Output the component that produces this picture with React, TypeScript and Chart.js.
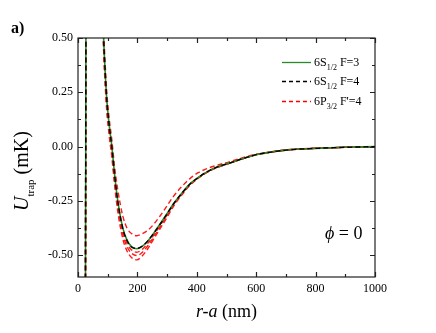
import React, { useEffect, useRef } from "react";
import { Chart, registerables } from "chart.js";

Chart.register(...registerables);

const xs = [22, 26, 30, 50, 70, 80, 86, 92, 97, 105, 114, 123, 134, 151, 165, 180, 198, 215, 235, 255, 277, 300, 322, 350, 378, 405, 434, 470, 507, 550, 600, 650, 700, 750, 800, 900, 1000];

const s12F3 = [-3, 0, 3, 3, 1.5, 0.8, 0.51, 0.33, 0.216, 0.1, 0, -0.125, -0.25, -0.375, -0.43, -0.46, -0.47, -0.46, -0.434, -0.398, -0.355, -0.308, -0.262, -0.213, -0.17, -0.142, -0.116, -0.093, -0.077, -0.057, -0.037, -0.025, -0.016, -0.011, -0.008, -0.003, 0];
const s12F4 = [-3, 0, 3, 3, 1.5, 0.8, 0.51, 0.33, 0.215, 0.098, -0.002, -0.127, -0.252, -0.377, -0.432, -0.462, -0.468, -0.459, -0.434, -0.399, -0.356, -0.309, -0.263, -0.214, -0.171, -0.142, -0.116, -0.093, -0.077, -0.057, -0.037, -0.025, -0.016, -0.011, -0.008, -0.003, 0];
const p32a = [-3, 0, 3, 3, 1.6, 0.85, 0.55, 0.37, 0.25, 0.13, 0.03, -0.09, -0.2, -0.32, -0.375, -0.4, -0.41, -0.402, -0.385, -0.357, -0.318, -0.272, -0.228, -0.183, -0.146, -0.12, -0.101, -0.085, -0.071, -0.053, -0.035, -0.024, -0.015, -0.01, -0.007, -0.003, 0];
const p32b = [-3, 0, 3, 3, 1.45, 0.78, 0.49, 0.31, 0.2, 0.085, -0.015, -0.14, -0.265, -0.39, -0.445, -0.475, -0.486, -0.474, -0.445, -0.407, -0.362, -0.314, -0.266, -0.216, -0.172, -0.143, -0.117, -0.094, -0.077, -0.057, -0.037, -0.025, -0.016, -0.011, -0.008, -0.003, 0];
const p32c = [-3, 0, 3, 3, 1.42, 0.76, 0.47, 0.29, 0.18, 0.07, -0.03, -0.155, -0.28, -0.405, -0.46, -0.49, -0.501, -0.488, -0.456, -0.415, -0.369, -0.319, -0.27, -0.219, -0.174, -0.144, -0.118, -0.095, -0.078, -0.058, -0.037, -0.025, -0.016, -0.011, -0.008, -0.003, 0];
const p32d = [-3, 0, 3, 3, 1.4, 0.74, 0.45, 0.27, 0.16, 0.05, -0.05, -0.175, -0.3, -0.425, -0.48, -0.51, -0.521, -0.505, -0.47, -0.425, -0.376, -0.325, -0.274, -0.222, -0.176, -0.145, -0.119, -0.096, -0.078, -0.058, -0.037, -0.025, -0.016, -0.011, -0.008, -0.003, 0];

const xMajor = [0, 200, 400, 600, 800, 1000];
const xMinor = [100, 300, 500, 700, 900];
const yMajor = [-0.5, -0.25, 0, 0.25, 0.5];
const yMinor = [-0.375, -0.125, 0.125, 0.375];

const FONT = "'Liberation Serif', 'Times New Roman', serif";

type Run = { t: string; f: string; dy?: number };

function drawRuns(ctx: CanvasRenderingContext2D, x: number, y: number, runs: Run[], align: "left" | "center" = "left") {
  let total = 0;
  for (const r of runs) {
    ctx.font = r.f;
    total += ctx.measureText(r.t).width;
  }
  let cx = align === "center" ? x - total / 2 : x;
  ctx.textAlign = "left";
  ctx.textBaseline = "alphabetic";
  for (const r of runs) {
    ctx.font = r.f;
    ctx.fillText(r.t, cx, y + (r.dy || 0));
    cx += ctx.measureText(r.t).width;
  }
}

const decor = {
  id: "decor",
  afterDraw(chart: any) {
    const { ctx, chartArea: a, scales } = chart;
    const x = scales.x;
    const y = scales.y;
    ctx.save();
    ctx.strokeStyle = "#222";
    ctx.lineWidth = 1.2;
    ctx.strokeRect(a.left, a.top, a.right - a.left, a.bottom - a.top);
    ctx.beginPath();
    const tx = (v: number, len: number) => {
      const p = Math.round(x.getPixelForValue(v)) + 0.5;
      ctx.moveTo(p, a.bottom);
      ctx.lineTo(p, a.bottom - len);
      ctx.moveTo(p, a.top);
      ctx.lineTo(p, a.top + len);
    };
    const ty = (v: number, len: number) => {
      const p = Math.round(y.getPixelForValue(v)) + 0.5;
      ctx.moveTo(a.left, p);
      ctx.lineTo(a.left + len, p);
      ctx.moveTo(a.right, p);
      ctx.lineTo(a.right - len, p);
    };
    xMajor.forEach((v) => tx(v, 5));
    xMinor.forEach((v) => tx(v, 3));
    yMajor.forEach((v) => ty(v, 5));
    yMinor.forEach((v) => ty(v, 3));
    ctx.stroke();

    ctx.fillStyle = "#000";
    // panel label
    drawRuns(ctx, 11, 33, [{ t: "a)", f: `bold 16px ${FONT}` }]);

    // x title
    drawRuns(
      ctx,
      (a.left + a.right) / 2,
      317,
      [
        { t: "r-a", f: `italic 18px ${FONT}` },
        { t: " (nm)", f: `18px ${FONT}` },
      ],
      "center"
    );

    // y title
    ctx.save();
    ctx.translate(28, 171);
    ctx.rotate(-Math.PI / 2);
    drawRuns(
      ctx,
      0,
      0,
      [
        { t: "U", f: `italic 20px ${FONT}` },
        { t: "trap", f: `11px ${FONT}`, dy: 6 },
        { t: " (mK)", f: `20px ${FONT}` },
      ],
      "center"
    );
    ctx.restore();

    // phi label
    drawRuns(ctx, 325, 239, [
      { t: "\u03d5", f: `italic 18px ${FONT}` },
      { t: " = 0", f: `18px ${FONT}` },
    ]);

    // legend
    const rows = [
      { c: "#2a8a2a", dash: [] as number[], main: "6S", sub: "1/2", rest: " F=3", yy: 62 },
      { c: "#000", dash: [4, 3], main: "6S", sub: "1/2", rest: " F=4", yy: 81 },
      { c: "#ff0000", dash: [4, 3], main: "6P", sub: "3/2", rest: " F'=4", yy: 101 },
    ];
    for (const r of rows) {
      ctx.save();
      ctx.strokeStyle = r.c;
      ctx.lineWidth = 1.3;
      ctx.setLineDash(r.dash);
      ctx.beginPath();
      ctx.moveTo(282, r.yy + 0.5);
      ctx.lineTo(311, r.yy + 0.5);
      ctx.stroke();
      ctx.restore();
      drawRuns(ctx, 314, r.yy + 4, [
        { t: r.main, f: `12px ${FONT}` },
        { t: r.sub, f: `8px ${FONT}`, dy: 4 },
        { t: r.rest, f: `12px ${FONT}` },
      ]);
    }
    ctx.restore();
  },
};

export default function App() {
  const ref = useRef<HTMLCanvasElement | null>(null);
  useEffect(() => {
    document.body.style.margin = "0";
    if (!ref.current) return;
    const mk = (data: number[], color: string, dash: number[], order: number, width = 1.4) => ({
      data: xs.map((xv, i) => ({ x: xv, y: data[i] })),
      borderColor: color,
      borderWidth: width,
      borderDash: dash,
      pointRadius: 0,
      fill: false,
      cubicInterpolationMode: "monotone" as const,
      clip: 0,
      order,
    });
    const chart = new Chart(ref.current, {
      type: "line",
      data: {
        datasets: [
          mk(s12F4, "#000000", [5, 3], 1),
          mk(s12F3, "#2a8a2a", [], 2, 1.6),
          mk(p32a, "#ff1a1a", [5, 3], 3),
          mk(p32b, "#ff1a1a", [5, 3], 3),
          mk(p32c, "#ff1a1a", [5, 3], 3),
          mk(p32d, "#ff1a1a", [5, 3], 3),
        ],
      },
      options: {
        responsive: false,
        animation: false,
        events: [],
        layout: { padding: { left: 0, right: 61, top: 38, bottom: 0 } },
        plugins: { legend: { display: false }, tooltip: { enabled: false } },
        scales: {
          x: {
            type: "linear",
            min: 0,
            max: 1000,
            grid: { display: false, drawTicks: false, tickLength: 0 },
            border: { display: false },
            afterBuildTicks: (s: any) => {
              s.ticks = xMajor.map((v) => ({ value: v }));
            },
            afterFit: (s: any) => {
              s.height = 56;
            },
            ticks: {
              padding: 5,
              color: "#000",
              maxRotation: 0,
              font: { family: FONT, size: 12 },
              callback: (v: any) => String(v),
            },
          },
          y: {
            type: "linear",
            min: -0.6,
            max: 0.5,
            grid: { display: false, drawTicks: false, tickLength: 0 },
            border: { display: false },
            afterBuildTicks: (s: any) => {
              s.ticks = yMajor.map((v) => ({ value: v }));
            },
            afterFit: (s: any) => {
              s.width = 78;
            },
            ticks: {
              padding: 5,
              color: "#000",
              font: { family: FONT, size: 12 },
              callback: (v: any) => Number(v).toFixed(2),
            },
          },
        },
      },
      plugins: [decor],
    });
    return () => chart.destroy();
  }, []);
  return (
    <div style={{ position: "absolute", left: 0, top: 0, width: 436, height: 333, background: "#fff" }}>
      <canvas ref={ref} width={436} height={333} />
    </div>
  );
}
